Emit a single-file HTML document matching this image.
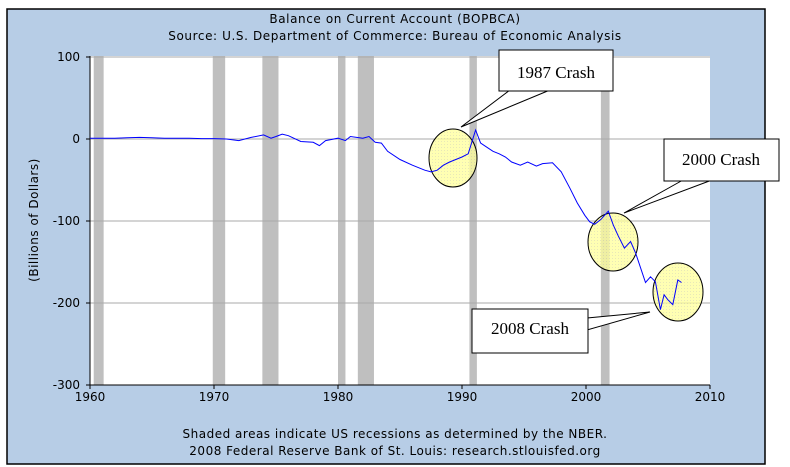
<!DOCTYPE html>
<html><head><meta charset="utf-8"><style>
body{margin:0;background:#fff;}
svg{display:block;font-family:"DejaVu Sans","Liberation Sans",sans-serif;}
</style></head><body>
<svg width="790" height="467" viewBox="0 0 790 467">
<defs>
<pattern id="grid" width="3" height="3" patternUnits="userSpaceOnUse"><rect width="3" height="3" fill="#ffff99"/><rect width="1" height="1" fill="#e0e0a0"/></pattern>
</defs>
<rect x="7" y="9" width="758" height="455" fill="#b7cde6" stroke="#000" stroke-width="1.5"/>
<text x="395" y="23" font-size="12" letter-spacing="0.6" text-anchor="middle">Balance on Current Account (BOPBCA)</text>
<text x="395" y="40" font-size="12" letter-spacing="0.6" text-anchor="middle">Source: U.S. Department of Commerce: Bureau of Economic Analysis</text>
<rect x="90" y="56" width="620" height="329" fill="#fff"/>
<g id="rec"></g><g id="grd"></g><g id="ax"></g>
<g>
<ellipse cx="453" cy="158" rx="24" ry="29" fill="url(#grid)" fill-opacity="0.75" stroke="#000"/>
<ellipse cx="613" cy="242" rx="25" ry="29" fill="url(#grid)" fill-opacity="0.75" stroke="#000"/>
<ellipse cx="678" cy="292" rx="25" ry="29" fill="url(#grid)" fill-opacity="0.75" stroke="#000"/>
</g>
<path id="line" fill="none" stroke="#0000ff" stroke-width="1"/>
<text transform="translate(38,220) rotate(-90)" font-size="12" letter-spacing="0.5" text-anchor="middle">(Billions of Dollars)</text>
<text x="395" y="438" font-size="12" letter-spacing="0.5" text-anchor="middle">Shaded areas indicate US recessions as determined by the NBER.</text>
<text x="395" y="455" font-size="12" letter-spacing="0.5" text-anchor="middle">2008 Federal Reserve Bank of St. Louis: research.stlouisfed.org</text>
<g>
<polygon points="510,90 461,127 550,90" fill="#fff" stroke="#000"/>
<rect x="499" y="50" width="114" height="41" fill="#fff" stroke="#000"/>
<text x="556" y="78" font-family="Liberation Serif,serif" font-size="17" text-anchor="middle">1987 Crash</text>
<polygon points="683,180 624,213 712,180" fill="#fff" stroke="#000"/>
<rect x="664" y="139" width="115" height="42" fill="#fff" stroke="#000"/>
<text x="721" y="165" font-family="Liberation Serif,serif" font-size="17" text-anchor="middle">2000 Crash</text>
<polygon points="587,318 650,312 587,330" fill="#fff" stroke="#000"/>
<rect x="472" y="309" width="116" height="44" fill="#fff" stroke="#000"/>
<text x="530" y="334" font-family="Liberation Serif,serif" font-size="17" text-anchor="middle">2008 Crash</text>
</g>
</svg>
<script>
const years=[1960,1961,1962,1963,1964,1965,1966,1967,1968,1969,1970,1971,1972,1973,1974,1974.6,1975,1975.5,1976,1977,1978,1978.5,1979,1980,1980.6,1981,1982,1982.5,1983,1983.5,1984,1985,1986,1987,1987.5,1988,1988.5,1989,1990,1990.5,1991.1,1991.5,1992,1992.5,1993,1993.5,1994,1994.7,1995.3,1996,1996.5,1997.3,1998,1998.7,1999.3,1999.9,2000.3,2000.7,2001.2,2001.8,2002.2,2002.6,2003.1,2003.6,2004,2004.8,2005.2,2005.6,2006,2006.3,2006.6,2007,2007.4,2007.7];
const values=[1,1,1,1.5,2,1.5,1,1,1,0.5,0.5,0,-2,2,5,1,3,6,4,-3,-4,-8,-2,1,-2,3,1,3,-4,-5,-15,-25,-32,-38,-40,-38,-32,-28,-22,-18,11,-5,-10,-15,-18,-22,-28,-32,-28,-33,-30,-29,-40,-60,-78,-93,-101,-104,-98,-88,-105,-118,-133,-125,-139,-175,-168,-174,-208,-190,-196,-202,-172,-175];
const recessions=[[1960.3,1961.1],[1969.9,1970.9],[1973.9,1975.2],[1980,1980.6],[1981.6,1982.9],[1990.6,1991.2],[2001.2,2001.9]];
const yTicks=[100,0,-100,-200,-300];
const xTicks=[1960,1970,1980,1990,2000,2010];
const NS='http://www.w3.org/2000/svg';
const X=y=>90+(y-1960)*12.4, Y=v=>139-v*0.82;
function mk(t,a,p){const e=document.createElementNS(NS,t);for(const k in a)e.setAttribute(k,a[k]);p.appendChild(e);return e;}
const rec=document.getElementById('rec'),grd=document.getElementById('grd'),ax=document.getElementById('ax');
recessions.forEach(r=>{const e=mk('rect',{x:X(r[0]),y:56,width:X(r[1])-X(r[0]),height:329,fill:'#bfbfbf'},rec);

});
yTicks.forEach(v=>{const l=mk('line',{x1:90,x2:710,y1:Y(v),y2:Y(v),stroke:'#aaa'},grd);


mk('line',{x1:86,x2:90,y1:Y(v),y2:Y(v),stroke:'#000'},ax);
const t=mk('text',{x:80,y:Y(v)+4,'font-size':12,'text-anchor':'end'},ax);t.textContent=v;

});
xTicks.forEach(y=>{mk('line',{x1:X(y),x2:X(y),y1:385,y2:389,stroke:'#000'},ax);
const t=mk('text',{x:X(y),y:401,'font-size':12,'text-anchor':'middle'},ax);t.textContent=y;

});
mk('line',{x1:90,x2:90,y1:56,y2:385,stroke:'#000'},ax);
mk('line',{x1:90,x2:710,y1:385,y2:385,stroke:'#000'},ax);
document.getElementById('line').setAttribute('d',years.map((y,i)=>(i?'L':'M')+X(y).toFixed(1)+','+Y(values[i]).toFixed(1)).join(''));
</script>
</body></html>
